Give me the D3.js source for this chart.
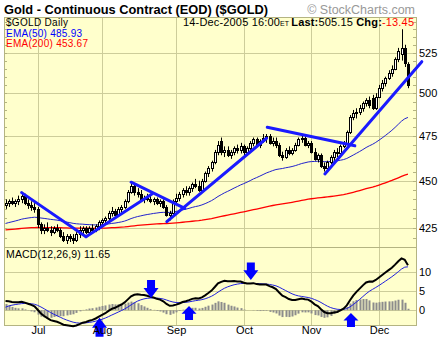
<!DOCTYPE html>
<html>
<head>
<meta charset="utf-8">
<script src="https://cdn.jsdelivr.net/npm/d3@7"></script>
<style>
  body { margin: 0; background: #fff; }
  svg { display: block; font-family: "Liberation Sans", Arial, sans-serif; }
</style>
</head>
<body>
<svg id="chart" width="447" height="343"></svg>
<script>
// ---- Daily bars, $GOLD, 17-Jun-2005 .. 14-Dec-2005 ----
const holidays = ["2005-07-04", "2005-09-05", "2005-11-24"];

const open = [437,438,439,438,439,440,442,438,437,436, 435,427,424,425,424,423,425,424,421,419,
  421,420,419,422,424,425,423,425,424,426, 428,429,430,433,434,432,435,436,439,444,
  447,444,443,440,441,440,439,440,438,439, 436,432,433,439,441,443,445,444,446,448,
  447,445,450,454,457,460,466,472,466,467, 464,466,468,467,469,466,468,471,473,470,
  472,474,475,471,472,470,464,463,467,465, 467,470,473,474,470,471,466,462,464,458,
  457,460,463,466,465,469,471,477,486,488, 489,491,494,496,497,491,498,503,506,509,
  512,515,521,524,528,518];
const high = [440,440,441,440,442,444,443,440,439,438, 436,428,427,428,426,426,427,425,423,422,
  422,422,423,426,426,426,426,427,427,429, 430,431,434,436,435,436,437,440,445,449,
  448,446,445,442,443,442,441,441,440,440, 437,434,440,443,444,446,447,447,449,451,
  450,451,455,458,461,467,472,474,469,469, 467,469,470,471,470,469,472,474,474,473,
  476,476,476,474,474,471,466,468,469,468, 471,474,476,475,472,472,468,465,465,460,
  461,464,467,468,470,472,478,487,490,491, 493,495,497,498,499,500,505,508,510,514,
  517,522,528,540,530,519];
const low = [435,436,437,436,437,438,437,435,434,433, 425,422,422,423,421,422,423,420,418,417,
  418,417,418,420,422,422,422,423,423,424, 426,427,429,431,430,431,433,435,438,443,
  442,441,439,438,439,438,437,437,436,435, 431,429,432,437,439,441,442,442,444,446,
  444,444,449,452,455,459,464,464,463,463, 462,464,465,465,464,465,467,469,469,468,
  471,471,470,469,468,463,461,462,464,464, 466,469,471,469,468,465,461,460,457,455,
  456,459,461,463,464,468,470,476,484,485, 487,489,492,491,490,490,497,501,504,508,
  510,514,519,520,516,503];
const close = [438,439,438,439,440,442,438,437,436,435, 427,424,425,424,423,425,424,421,419,421,
  420,419,422,424,425,423,425,424,426,428, 429,430,433,434,432,435,436,439,444,447,
  444,443,440,441,440,439,440,438,439,436, 432,433,439,441,443,445,444,446,448,447,
  445,450,454,457,460,466,470,466,467,464, 466,468,467,469,466,468,471,473,470,472,
  474,475,471,472,470,464,463,467,465,467, 470,473,474,470,471,466,462,464,458,457,
  460,463,466,465,469,471,477,486,488,489, 491,494,496,493,491,498,503,506,509,512,
  515,521,526,528,518.6,505.15];

// EMA values standing on the day before the first bar
const seedEma50 = 427, seedEma200 = 424;
const seedEma12 = 437.6, seedEma26 = 435.0, seedSignal = 0.4;

// right-axis ticks
const priceTicks = [425, 450, 475, 500, 525];
const macdTicks = [0, 5, 10];
const monthLabels = ["Jul", "Aug", "Sep", "Oct", "Nov", "Dec"];
const monthStarts = ["2005-07-01", "2005-08-01", "2005-09-01", "2005-10-03", "2005-11-01", "2005-12-01"];

// hand-drawn trend lines: [barIndex, price, barIndex, price]
const trendLines = [
  [5.0, 443.6, 25.0, 420.7],
  [25.0, 420.7, 45.5, 442.9],
  [39.0, 449.2, 55.7, 435.3],
  [50.1, 428.4, 81.1, 473.6],
  [81.3, 479.9, 108.5, 469.3],
  [99.2, 453.7, 129.3, 519.3]
];
// MACD-panel arrows: barIndex, tip value, tail value (MACD units)
const arrows = [
  [45.2, 3.2, 8.0],
  [76.2, 8.0, 12.6],
  [29.2, -2.0, -7.0],
  [57.0, 1.1, -2.6],
  [107.3, -0.7, -4.4]
];

// ---- derived series ----
const fmt = d3.timeFormat("%Y-%m-%d");
const dates = d3.timeDay.range(new Date(2005, 5, 17), new Date(2005, 11, 15))
  .filter(d => d.getDay() % 6 !== 0 && !holidays.includes(fmt(d)));
const bars = dates.map((d, i) => ({ i, date: d, o: open[i], h: high[i], l: low[i], c: close[i] }));

function ema(values, period, seed) {
  const k = 2 / (period + 1);
  let e = seed;
  return values.map(v => (e = e + k * (v - e)));
}
const ema50 = ema(close, 50, seedEma50);
const ema200 = ema(close, 200, seedEma200);
const ema12 = ema(close, 12, seedEma12);
const ema26 = ema(close, 26, seedEma26);
const macd = ema12.map((v, i) => v - ema26[i]);
const signal = ema(macd, 9, seedSignal);
const hist = macd.map((v, i) => v - signal[i]);

// ---- geometry ----
const L = 4, R = 416, T = 17, MB = 247, B = 325;
const svg = d3.select("#chart");
const x = d3.scaleLinear().domain([-0.47, 127.5]).range([L, R]);
const y = d3.scaleLog().domain([415.5, 548]).range([MB, T]);
const ym = d3.scaleLinear().domain([-3.9, 16.7]).range([B, MB]);

const bg = "#FFFFCC", grid = "#CDCD9A", frame = "#B4B482";

// panels
svg.append("rect").attr("x", L + 0.5).attr("y", T + 0.5).attr("width", R - L).attr("height", MB - T)
  .attr("fill", bg);
svg.append("rect").attr("x", L + 0.5).attr("y", MB + 0.5).attr("width", R - L).attr("height", B - MB)
  .attr("fill", bg);

const dateIndex = new Map(dates.map((d, i) => [fmt(d), i]));
const monthX = monthStarts.map(s => Math.round(x(dateIndex.get(s))) + 0.5);

// vertical month grid
const g = svg.append("g");
monthX.forEach(mx => {
  g.append("line").attr("x1", mx).attr("x2", mx).attr("y1", T).attr("y2", B)
    .attr("stroke", grid).attr("stroke-width", 1);
});
// horizontal grid
priceTicks.forEach(p => {
  const yy = Math.round(y(p)) + 0.5;
  g.append("line").attr("x1", L).attr("x2", R).attr("y1", yy).attr("y2", yy)
    .attr("stroke", grid);
});
macdTicks.forEach(m => {
  const yy = Math.round(ym(m)) + 0.5;
  g.append("line").attr("x1", L).attr("x2", R).attr("y1", yy).attr("y2", yy)
    .attr("stroke", grid);
});
// minor ticks every 5 on both edges of the price panel
d3.range(420, 546, 5).forEach(p => {
  const yy = Math.round(y(p)) + 0.5;
  g.append("line").attr("x1", L).attr("x2", L + 3).attr("y1", yy).attr("y2", yy).attr("stroke", frame);
  g.append("line").attr("x1", R - 3).attr("x2", R).attr("y1", yy).attr("y2", yy).attr("stroke", frame);
});

// frames
svg.append("rect").attr("x", L + 0.5).attr("y", T + 0.5).attr("width", R - L).attr("height", MB - T)
  .attr("fill", "none").attr("stroke", frame);
svg.append("rect").attr("x", L + 0.5).attr("y", MB + 0.5).attr("width", R - L).attr("height", B - MB)
  .attr("fill", "none").attr("stroke", frame);

// moving averages
const lineP = arr => d3.line().x((d, i) => x(i)).y(d => y(d))(arr);
svg.append("path").attr("d", lineP(ema200)).attr("fill", "none").attr("stroke", "#FF0000").attr("stroke-width", 1.3);
svg.append("path").attr("d", lineP(ema50)).attr("fill", "none").attr("stroke", "#2222CC").attr("stroke-width", 1);

// candles
const cg = svg.append("g");
bars.forEach(b => {
  const cx = Math.round(x(b.i));
  cg.append("line").attr("x1", cx + 0.5).attr("x2", cx + 0.5)
    .attr("y1", y(b.h)).attr("y2", y(b.l)).attr("stroke", "#000").attr("stroke-width", 1);
  const top = Math.round(y(Math.max(b.o, b.c))), bot = Math.round(y(Math.min(b.o, b.c)));
  cg.append("rect").attr("x", cx - 0.5).attr("y", top + 0.5).attr("width", 2).attr("height", Math.max(1, bot - top))
    .attr("fill", b.c >= b.o ? "#fff" : "#000").attr("stroke", "#000").attr("stroke-width", 1);
});

// trend lines
trendLines.forEach(t => {
  svg.append("line").attr("x1", x(t[0])).attr("y1", y(t[1])).attr("x2", x(t[2])).attr("y2", y(t[3]))
    .attr("stroke", "#1A1AFF").attr("stroke-width", 3).attr("stroke-linecap", "round");
});

// MACD panel
const mg = svg.append("g");
bars.forEach(b => {
  const h = hist[b.i];
  mg.append("rect").attr("x", Math.round(x(b.i)) - 0.5).attr("width", 2)
    .attr("y", Math.min(ym(h), ym(0))).attr("height", Math.abs(ym(h) - ym(0)))
    .attr("fill", "#8C8C8C");
});
const lineM = arr => d3.line().x((d, i) => x(i)).y(d => ym(d))(arr);
mg.append("path").attr("d", lineM(signal)).attr("fill", "none").attr("stroke", "#2020DD").attr("stroke-width", 1);
mg.append("path").attr("d", lineM(macd)).attr("fill", "none").attr("stroke", "#000").attr("stroke-width", 2);

// arrows
arrows.forEach(a => {
  const ax = x(a[0]), tip = ym(a[1]), tail = ym(a[2]);
  const dir = tail < tip ? 1 : -1;        // 1 = pointing down
  const len = Math.abs(tail - tip), head = Math.min(10, len * 0.55);
  const neck = tip - dir * head;
  const pts = [[ax - 4, tail], [ax + 4, tail], [ax + 4, neck], [ax + 7.5, neck], [ax, tip], [ax - 7.5, neck], [ax - 4, neck]];
  svg.append("polygon").attr("points", pts.map(p => p.join(",")).join(" ")).attr("fill", "#0000FF");
});

// axis labels
const lab = svg.append("g").attr("font-size", 11).attr("fill", "#000");
priceTicks.forEach(p => lab.append("text").attr("x", 419).attr("y", y(p) + 4).text(p));
macdTicks.forEach(m => lab.append("text").attr("x", 419).attr("y", ym(m) + 4).text(m));
monthLabels.forEach((m, i) => lab.append("text").attr("x", monthX[i]).attr("y", 334)
  .attr("text-anchor", "middle").text(m));

// header
svg.append("text").attr("x", 4).attr("y", 14).attr("font-size", 13).attr("font-weight", "bold")
  .attr("textLength", 264).attr("lengthAdjust", "spacingAndGlyphs")
  .text("Gold - Continuous Contract (EOD) ($GOLD)");
svg.append("text").attr("x", 415).attr("y", 14).attr("font-size", 12.5).attr("fill", "#999")
  .attr("text-anchor", "end").text("© StockCharts.com");

const leg = svg.append("g").attr("font-size", 10);
leg.append("text").attr("x", 6).attr("y", 26).attr("textLength", 62).text("$GOLD Daily");
leg.append("text").attr("x", 6).attr("y", 36.5).attr("fill", "#0000FF").attr("textLength", 76).text("EMA(50) 485.93");
leg.append("text").attr("x", 6).attr("y", 47).attr("fill", "#FF0000").attr("textLength", 82).text("EMA(200) 453.67");

const info = svg.append("text").attr("x", 183).attr("y", 26).attr("font-size", 11)
  .attr("textLength", 231).attr("lengthAdjust", "spacing");
info.append("tspan").text("14-Dec-2005 16:00");
info.append("tspan").attr("font-size", 7).text("ET ");
info.append("tspan").attr("font-weight", "bold").text("Last:");
info.append("tspan").text("505.15 ");
info.append("tspan").attr("font-weight", "bold").text("Chg:");
info.append("tspan").attr("fill", "#FF0000").text("-13.45");

svg.append("text").attr("x", 6).attr("y", 258).attr("font-size", 10.5)
  .attr("textLength", 104).attr("lengthAdjust", "spacing")
  .text("MACD(12,26,9)  11.65");
</script>
</body>
</html>
